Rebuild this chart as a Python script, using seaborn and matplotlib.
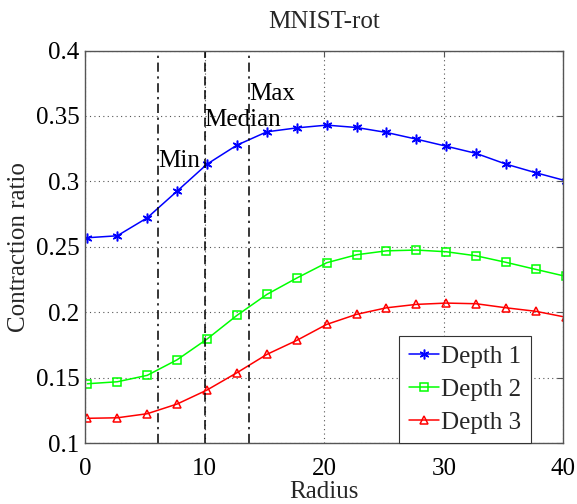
import numpy as np
import pandas as pd
import matplotlib
matplotlib.use('Agg')
import matplotlib.pyplot as plt
import seaborn as sns

# radius values
radius = [0.2, 2.7, 5.2, 7.7, 10.2, 12.7, 15.2, 17.7, 20.2, 22.7,
          25.2, 27.7, 30.2, 32.7, 35.2, 37.7, 40.2]
depth1 = [0.2570, 0.2585, 0.2722, 0.2926, 0.3132, 0.3277, 0.3379, 0.3409, 0.3430,
          0.3412, 0.3374, 0.3323, 0.3269, 0.3214, 0.3132, 0.3066, 0.3005]
depth2 = [0.1455, 0.1470, 0.1519, 0.1638, 0.1796, 0.1977, 0.2137, 0.2262, 0.2379,
          0.2440, 0.2470, 0.2476, 0.2463, 0.2432, 0.2382, 0.2328, 0.2275]
depth3 = [0.1191, 0.1195, 0.1226, 0.1300, 0.1407, 0.1539, 0.1679, 0.1786, 0.1908,
          0.1985, 0.2035, 0.2061, 0.2071, 0.2066, 0.2035, 0.2008, 0.1963]
series_names = ['Depth 1', 'Depth 2', 'Depth 3']

# vertical reference lines
ref_names = ['Min', 'Median', 'Max']
ref_x = [6.13, 10.0, 13.7]
ref_text_y = [0.311, 0.342, 0.362]

x_ticks = [0, 10, 20, 30, 40]
x_ticklabels = ['0', '10', '20', '30', '40']
y_ticks = [0.1, 0.15, 0.2, 0.25, 0.3, 0.35, 0.4]
y_ticklabels = ['0.1', '0.15', '0.2', '0.25', '0.3', '0.35', '0.4']

FS = 18

sns.set_style('white')
plt.rcParams['font.family'] = ['Liberation Serif', 'DejaVu Serif']

fig = plt.figure(figsize=(5.77, 5.04), dpi=100)
ax = fig.add_axes([0.1473, 0.1204, 0.8293, 0.7794])

styles = [
    dict(color='#0000ff', marker=(6, 2, 0), ms=7, mfc='#0000ff'),
    dict(color='#00ff00', marker='s', ms=6, mfc='none'),
    dict(color='#ff0000', marker='^', ms=6, mfc='none'),
]
for name, vals, st in zip(series_names, [depth1, depth2, depth3], styles):
    df = pd.DataFrame({'Radius': radius, 'ratio': vals})
    sns.lineplot(data=df, x='Radius', y='ratio', ax=ax, label=name,
                 color=st['color'], marker=st['marker'], markersize=st['ms'],
                 markerfacecolor=st['mfc'], markeredgecolor=st['color'],
                 markeredgewidth=1.1, linewidth=1.1)

ls_list = ['-.', '--', '-.']
for name, xv, ty, ls in zip(ref_names, ref_x, ref_text_y, ls_list):
    ax.axvline(xv, color='black', linestyle=ls, linewidth=1.1,
               dashes=(6, 3, 1.5, 3) if ls == '-.' else (6, 3))
    ax.text(xv, ty, name, fontsize=FS, ha='left', va='baseline', color='black')

ax.set_xlim(0, 40)
ax.set_ylim(0.1, 0.4)
ax.set_xticks(x_ticks)
ax.set_xticklabels(x_ticklabels)
ax.set_yticks(y_ticks)
ax.set_yticklabels(y_ticklabels)
ax.tick_params(direction='in', top=True, right=True, length=4, width=0.8,
               colors='#555555', labelcolor='black', labelsize=FS)
ax.tick_params(axis='x', pad=10.5)
ax.tick_params(axis='y', pad=4)
ax.grid(True, linestyle=(0, (1, 3)), color='#555555', linewidth=0.8)
for sp in ax.spines.values():
    sp.set_color('#555555')
    sp.set_linewidth(1.0)

ax.set_xlabel('Radius', fontsize=FS, labelpad=0.5)
ax.set_ylabel('Contraction ratio', fontsize=FS, labelpad=4)
ax.set_title('MNIST-rot', fontsize=FS, pad=16)

leg = ax.legend(loc='lower right', bbox_to_anchor=(0.932, 0.0), fontsize=FS,
                frameon=True, fancybox=False, framealpha=1, edgecolor='#333333',
                handlelength=1.2, handletextpad=0.1, borderpad=0.38,
                labelspacing=0.42, borderaxespad=0.0)
leg.get_frame().set_linewidth(0.8)

fig.savefig('out.png', dpi=100)
